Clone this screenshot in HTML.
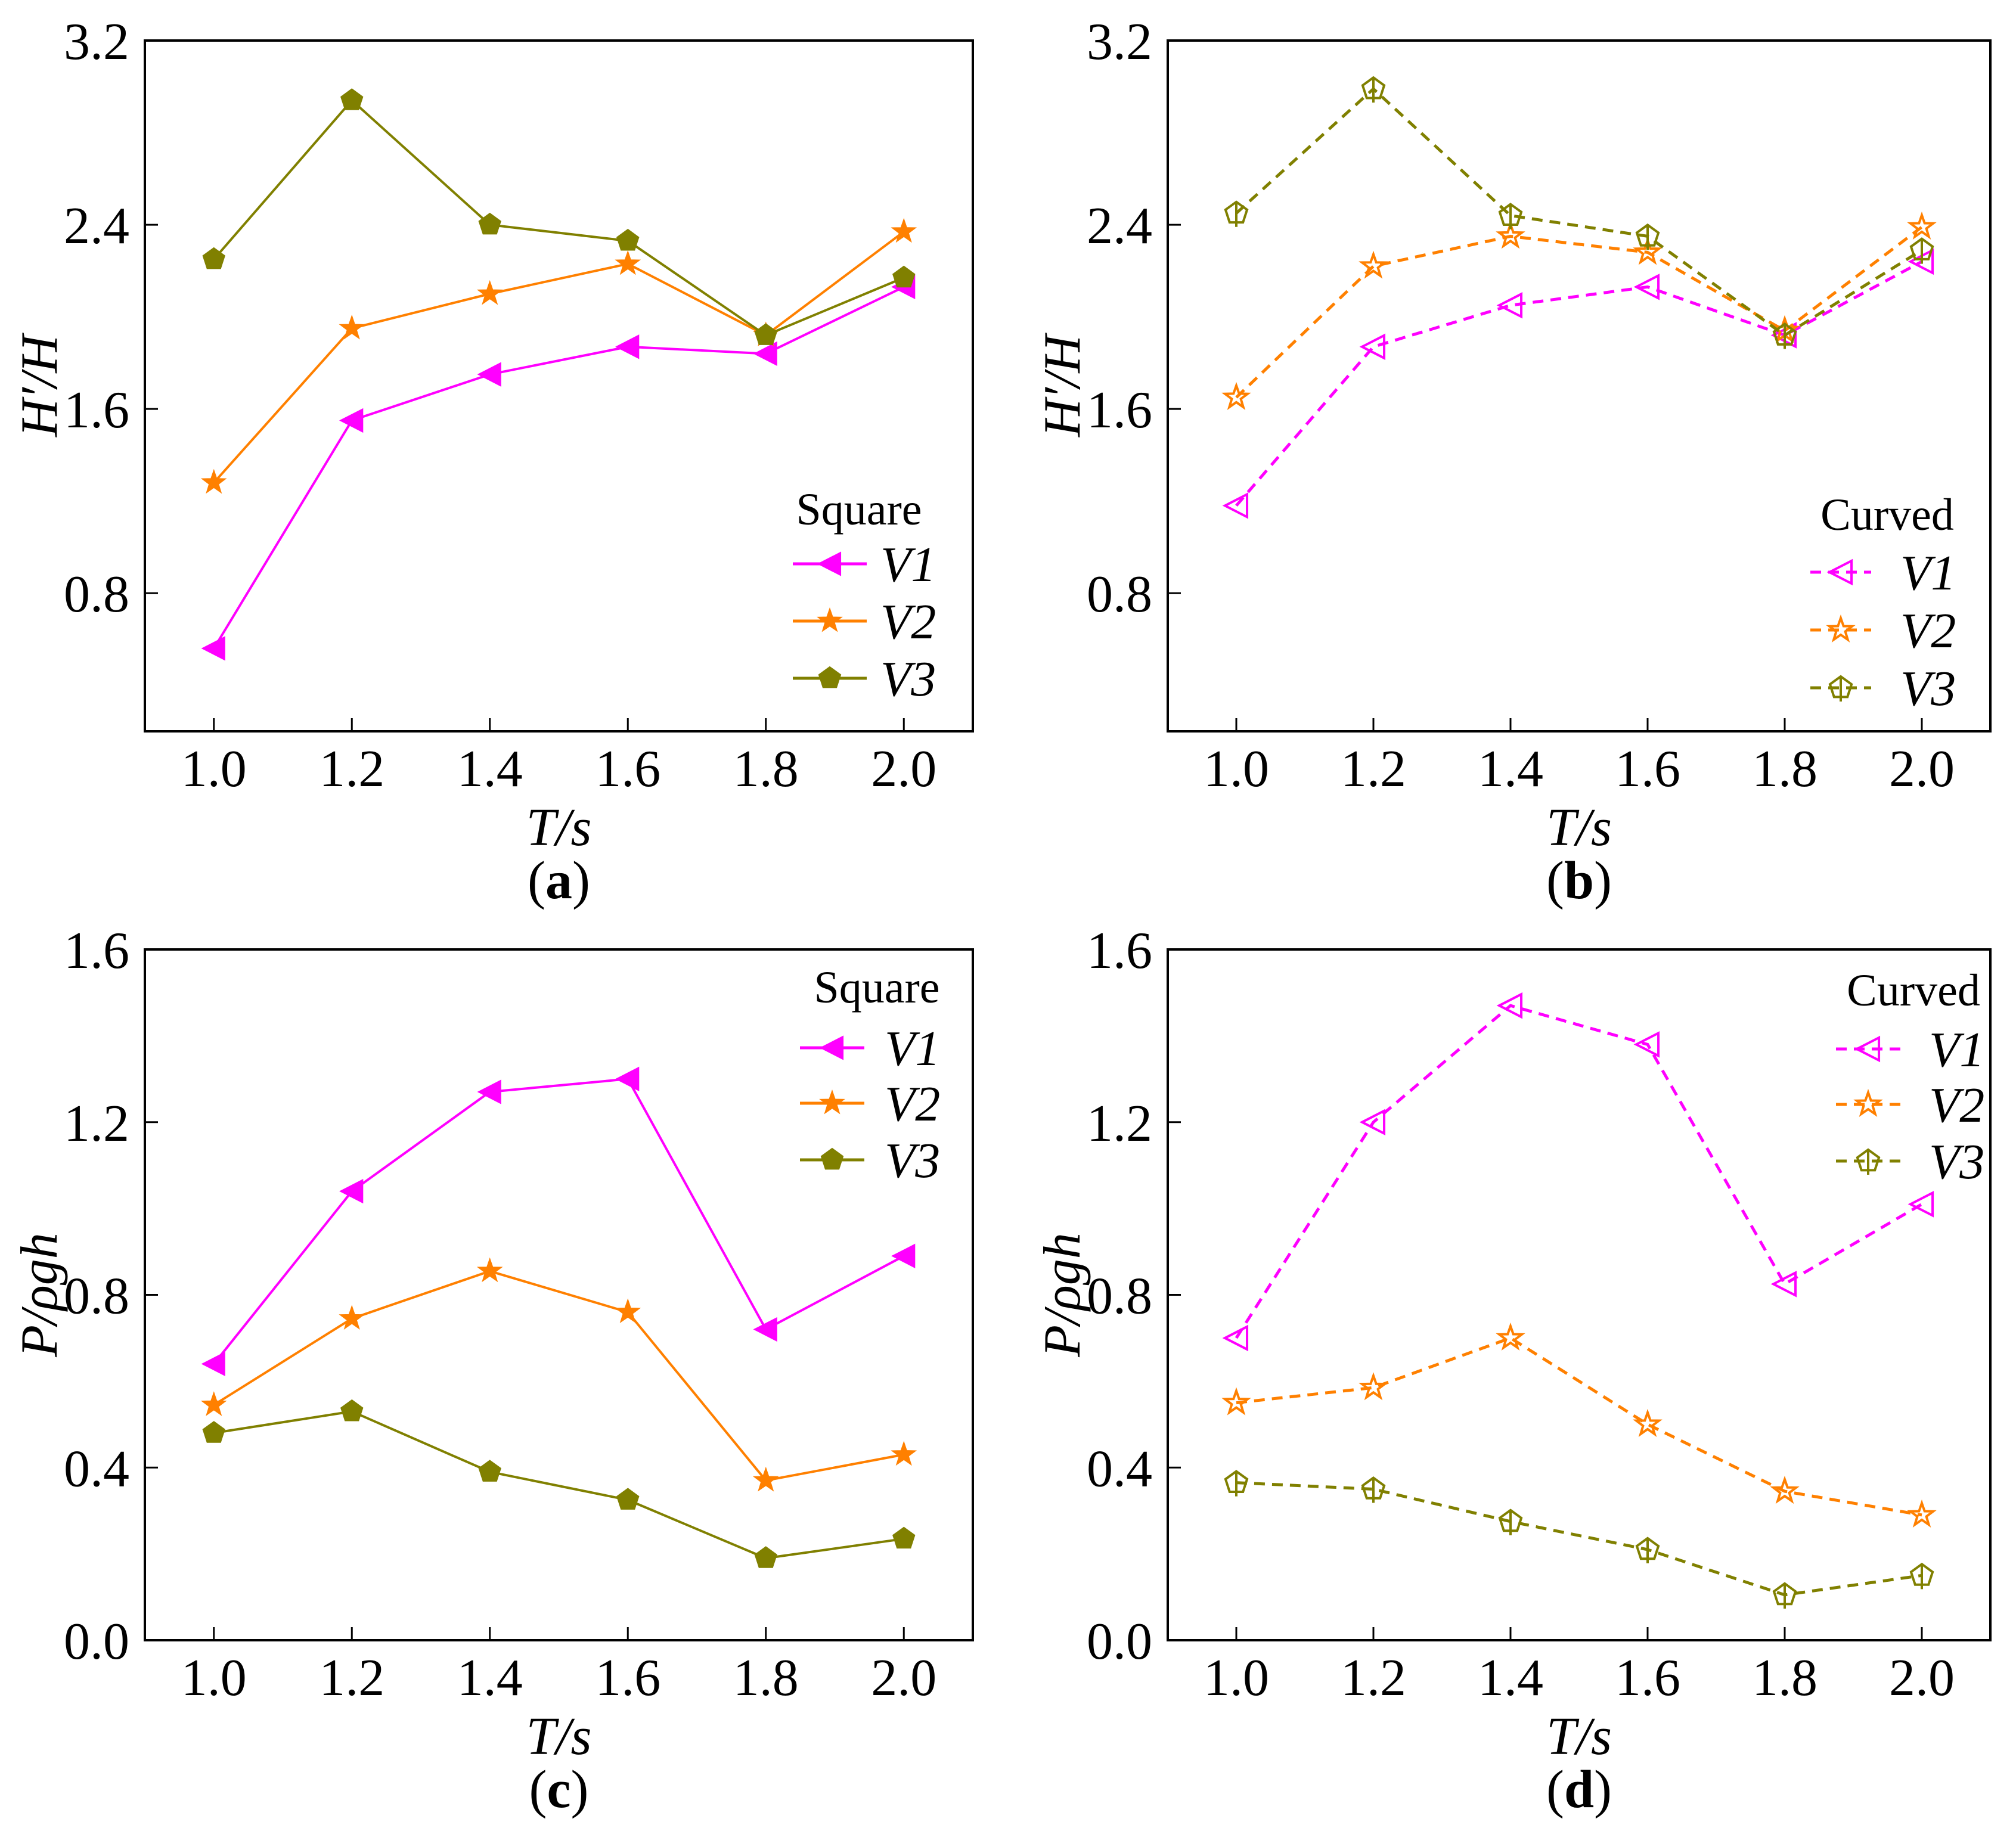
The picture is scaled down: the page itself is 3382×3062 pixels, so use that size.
<!DOCTYPE html>
<html><head><meta charset="utf-8"><style>
html,body{margin:0;padding:0;background:#fff}
svg{display:block}
svg text{font-family:"Liberation Serif","Times New Roman","DejaVu Serif",serif;fill:#000}
</style></head><body>
<svg id="fig" width="3382" height="3062" viewBox="0 0 3382 3062" xmlns="http://www.w3.org/2000/svg" font-family="Liberation Serif, Times New Roman, DejaVu Serif, serif"></svg>
<script>
const periods = [1.0, 1.2, 1.4, 1.6, 1.8, 2.0];
const xTicks = ["1.0","1.2","1.4","1.6","1.8","2.0"];
const yTicksH = ["0.8","1.6","2.4","3.2"];
const yTicksP = ["0.0","0.4","0.8","1.2","1.6"];
const seriesNames = ["V1","V2","V3"];
const aV1 = [0.56, 1.55, 1.75, 1.87, 1.84, 2.13];
const aV2 = [1.28, 1.95, 2.10, 2.23, 1.92, 2.37];
const aV3 = [2.25, 2.94, 2.40, 2.33, 1.92, 2.17];
const bV1 = [1.18, 1.87, 2.05, 2.13, 1.92, 2.24];
const bV2 = [1.65, 2.22, 2.35, 2.28, 1.94, 2.39];
const bV3 = [2.45, 2.99, 2.44, 2.35, 1.92, 2.29];
const cV1 = [0.64, 1.04, 1.27, 1.30, 0.72, 0.89];
const cV2 = [0.545, 0.745, 0.855, 0.76, 0.37, 0.43];
const cV3 = [0.48, 0.53, 0.39, 0.325, 0.19, 0.235];
const dV1 = [0.70, 1.20, 1.47, 1.38, 0.825, 1.01];
const dV2 = [0.55, 0.585, 0.70, 0.50, 0.345, 0.29];
const dV3 = [0.365, 0.35, 0.275, 0.21, 0.105, 0.15];

const NS="http://www.w3.org/2000/svg";
const svg=document.getElementById('fig');
const colors=["#ff00ff","#ff8000","#808000"];
const FF='"Liberation Serif","Times New Roman","DejaVu Serif",serif';
function el(tag,attrs,parent){const e=document.createElementNS(NS,tag);for(const k in attrs)e.setAttribute(k,attrs[k]);if(tag==='text')e.setAttribute('style','font-family:'+FF);(parent||svg).appendChild(e);return e;}

function marker(g,kind,cx,cy,col,filled){
  const r=19;let m;
  if(kind===0){
    m=el('polygon',{points:`${cx-r},${cy} ${cx+r*0.95},${cy-r} ${cx+r*0.95},${cy+r}`},g);
  }else if(kind===1){
    let pts=[];for(let i=0;i<10;i++){const a=-Math.PI/2+i*Math.PI/5;const rr=i%2?r*0.42:r*1.05;pts.push((cx+rr*Math.cos(a)).toFixed(1)+','+(cy+rr*Math.sin(a)).toFixed(1));}
    m=el('polygon',{points:pts.join(' ')},g);
  }else{
    let pts=[];for(let i=0;i<5;i++){const a=-Math.PI/2+i*2*Math.PI/5;pts.push((cx+r*Math.cos(a)).toFixed(1)+','+(cy+r*Math.sin(a)).toFixed(1));}
    m=el('polygon',{points:pts.join(' ')},g);
  }
  if(filled){m.setAttribute('fill',col);m.setAttribute('stroke',col);m.setAttribute('stroke-width','2');}
  else{m.setAttribute('fill','none');m.setAttribute('stroke',col);m.setAttribute('stroke-width','4');
    if(kind===2){el('line',{x1:cx,y1:cy-r,x2:cx,y2:cy+r+4,stroke:col,'stroke-width':4},g);}}
  return m;
}

const panels=[
 {id:'a',L:243,R:1632,T:68,B:1227,ymin:0.2,ymax:3.2,ticks:yTicksH,title:"H′/H",data:[aV1,aV2,aV3],dashed:false,legTitle:"Square",legTitleX:1441,legTitleY:880,lx1:1330,lx2:1454,tx:1477,rows:[946,1042,1138]},
 {id:'b',L:1959,R:3339,T:68,B:1227,ymin:0.2,ymax:3.2,ticks:yTicksH,title:"H′/H",data:[bV1,bV2,bV3],dashed:true,legTitle:"Curved",legTitleX:3166,legTitleY:889,lx1:3037,lx2:3139,tx:3188,rows:[960,1057,1154]},
 {id:'c',L:243,R:1632,T:1593,B:2752,ymin:0,ymax:1.6,ticks:yTicksP,title:"P/ρgh",data:[cV1,cV2,cV3],dashed:false,legTitle:"Square",legTitleX:1471,legTitleY:1682,lx1:1342,lx2:1450,tx:1484,rows:[1758,1851,1946]},
 {id:'d',L:1959,R:3339,T:1593,B:2752,ymin:0,ymax:1.6,ticks:yTicksP,title:"P/ρgh",data:[dV1,dV2,dV3],dashed:true,legTitle:"Curved",legTitleX:3210,legTitleY:1687,lx1:3080,lx2:3188,tx:3236,rows:[1760,1853,1948]}
];

panels.forEach(p=>{
  const g=el('g',{});
  
  
  const xs=v=>p.L+(v-0.9)/(1.2)*(p.R-p.L);
  const ys=v=>p.B-(v-p.ymin)/(p.ymax-p.ymin)*(p.B-p.T);
  const frame=el('rect',{x:p.L,y:p.T,width:p.R-p.L,height:p.B-p.T,fill:'none',stroke:'#000','stroke-width':4},g);
  
  
  xTicks.forEach((t,i)=>{
    const x=xs(periods[i]);
    el('line',{x1:x,y1:p.B,x2:x,y2:p.B-22,stroke:'#000','stroke-width':3},g);
    const tx=el('text',{x:x,y:p.B+92,'font-size':88,'text-anchor':'middle'},g);tx.textContent=t;
    
    
  });
  p.ticks.forEach(t=>{
    const y=ys(parseFloat(t));
    el('line',{x1:p.L,y1:y,x2:p.L+22,y2:y,stroke:'#000','stroke-width':3},g);
    const tx=el('text',{x:p.L-26,y:y+31,'font-size':88,'text-anchor':'end'},g);tx.textContent=t;
    
    
  });
  const xt=el('text',{x:(p.L+p.R)/2,y:p.B+191,'font-size':90,'font-style':'italic','text-anchor':'middle'},g);
  xt.textContent="T/s";
  
  
  const cy=(p.T+p.B)/2;
  const yt=el('text',{x:0,y:0,'font-size':88,'font-style':'italic','text-anchor':'middle',transform:`translate(${p.L-148},${cy}) rotate(-90)`},g);
  yt.textContent=p.title;
  
  
  const cap=el('text',{x:(p.L+p.R)/2,y:p.B+280,'font-size':90,'text-anchor':'middle'},g);
  cap.innerHTML='(<tspan font-weight="bold">'+p.id+'</tspan>)';
  
  
  p.data.forEach((vals,si)=>{
    const col=colors[si];
    const pts=vals.map((v,i)=>xs(periods[i]).toFixed(1)+','+ys(v).toFixed(1)).join(' ');
    const line=el('polyline',{points:pts,fill:'none',stroke:col,'stroke-width':p.dashed?5:4},g);
    if(p.dashed)line.setAttribute('stroke-dasharray','18 12');
    
    
    vals.forEach((v,i)=>{
      const m=marker(g,si,xs(periods[i]),ys(v),col,!p.dashed);
      
      
    });
    const ly=p.rows[si];
    const ll=el('line',{x1:p.lx1,y1:ly,x2:p.lx2,y2:ly,stroke:col,'stroke-width':5},g);
    if(p.dashed)ll.setAttribute('stroke-dasharray','18 12');
    
    
    marker(g,si,(p.lx1+p.lx2)/2,ly,col,!p.dashed);
    const lt=el('text',{x:p.tx,y:ly+29,'font-size':84,'font-style':'italic'},g);
    lt.textContent=seriesNames[si];
    
    
  });
  const lg=el('text',{x:p.legTitleX,y:p.legTitleY,'font-size':76,'text-anchor':'middle'},g);
  lg.textContent=p.legTitle;
  
  
});
</script>
</body></html>
